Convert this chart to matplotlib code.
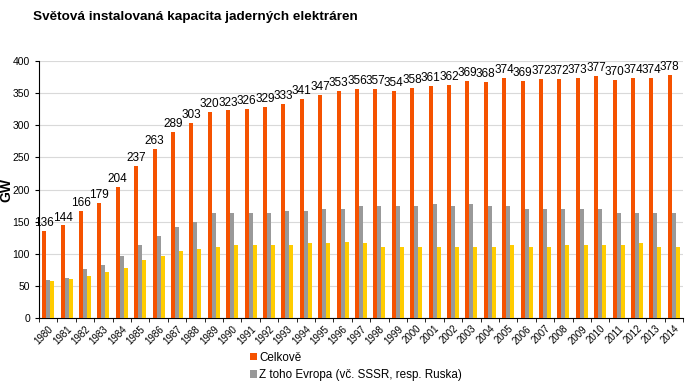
import numpy as np
import matplotlib.pyplot as plt

plt.rcParams['font.family'] = ['Liberation Sans', 'DejaVu Sans']

# Data
roky = list(range(1980, 2015))
celkove = [136, 144, 166, 179, 204, 237, 263, 289, 303, 320,
           323, 326, 329, 333, 341, 347, 353, 356, 357, 354,
           358, 361, 362, 369, 368, 374, 369, 372, 372, 373,
           377, 370, 374, 374, 378]
evropa = [59, 63, 77, 82, 96, 113, 127, 142, 150, 163,
          164, 163, 164, 166, 167, 169, 170, 174, 175, 174,
          175, 177, 175, 178, 175, 175, 170, 170, 170, 170,
          170, 164, 163, 163, 164]
eu = [58, 61, 66, 71, 78, 91, 96, 105, 107, 111,
      113, 114, 113, 114, 116, 117, 119, 117, 111, 110,
      110, 110, 111, 111, 111, 114, 111, 111, 114, 114,
      114, 114, 116, 111, 111]

fig = plt.figure(figsize=(6.9, 3.85), dpi=100)
ax = fig.add_axes([39/690, 1-318/385, 644/690, 257/385])

x = np.arange(len(roky))
w = 0.22
ax.bar(x - w, celkove, w, color='#F55200', label='Celkově', zorder=3)
ax.bar(x, evropa, w, color='#999999', label='Z toho Evropa (vč. SSSR, resp. Ruska)', zorder=3)
ax.bar(x + w, eu, w, color='#FFCC00', zorder=3)

for xi, v in zip(x, celkove):
    ax.text(xi - w, v + 3, str(v), ha='center', va='bottom', fontsize=8.5, color='#000000')

ax.set_xlim(-0.5, len(roky) - 0.5)
ax.set_ylim(0, 400)
ax.set_yticks(range(0, 401, 50))
ax.yaxis.grid(True, color='#D9D9D9', linewidth=0.8, zorder=0)
ax.tick_params(axis='y', labelsize=7.5, length=3)
ax.set_ylabel('GW', fontsize=10, fontweight='bold', va='center')
ax.yaxis.set_label_coords(-0.05, 0.5)

ax.set_xticks(x)
ax.set_xticklabels([str(r) for r in roky], rotation=45, ha='right',
                   rotation_mode='anchor', fontsize=7)
ax.tick_params(axis='x', length=0, pad=4)
ax.set_xticks(np.arange(-0.5, len(roky), 1), minor=True)
ax.tick_params(axis='x', which='minor', length=3)

for s in ['top', 'right']:
    ax.spines[s].set_visible(False)

fig.text(33/690, 1-17/385, 'Světová instalovaná kapacita jaderných elektráren',
         fontsize=9.7, fontweight='bold', va='center')

fig.legend(loc='upper left', bbox_to_anchor=(244/690, 1-346/385), frameon=False,
           fontsize=8.4, handlelength=0.6, handleheight=0.6, handletextpad=0.2,
           labelspacing=0.45, borderpad=0)

fig.savefig('out.png', dpi=100)
